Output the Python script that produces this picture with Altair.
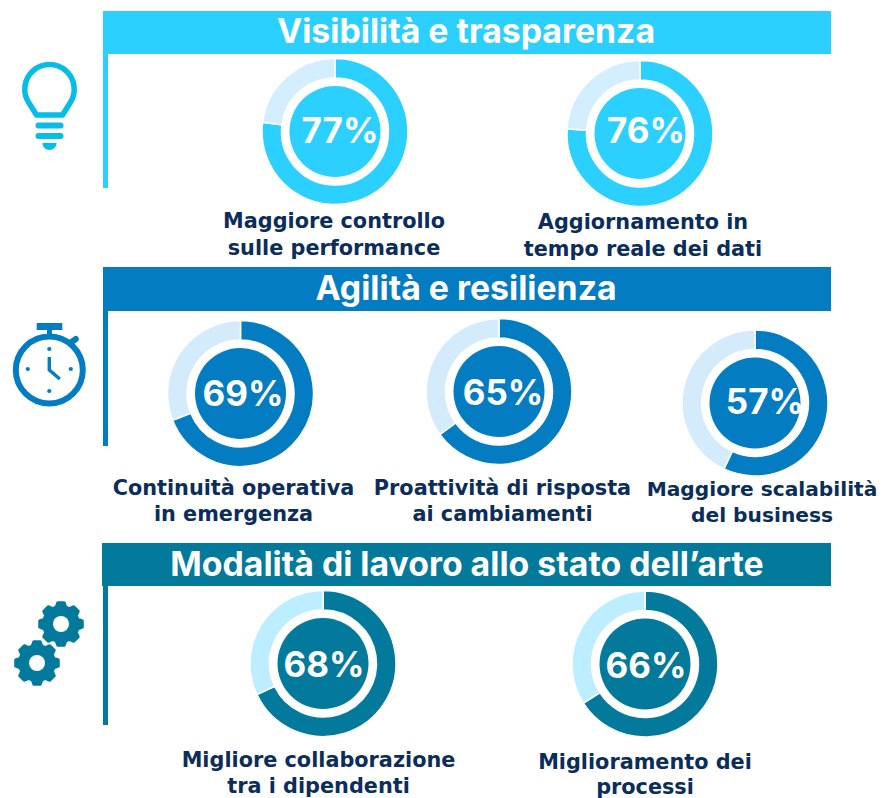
import math
import altair as alt
import pandas as pd

# ---- data ----
section_titles = ["Visibilità e trasparenza", "Agilità e resilienza", "Modalità di lavoro allo stato dell’arte"]
section_colors = ["#2BD0FF", "#047CC1", "#03799C"]
track_colors = ["#D2EEFF", "#D4EBFC", "#BCEEFF"]
section_of_item = [0, 0, 1, 1, 1, 2, 2]
values = [77, 76, 69, 65, 57, 68, 66]
labels = [
    ["Maggiore controllo", "sulle performance"],
    ["Aggiornamento in", "tempo reale dei dati"],
    ["Continuità operativa", "in emergenza"],
    ["Proattività di risposta", "ai cambiamenti"],
    ["Maggiore scalabilità", "del business"],
    ["Migliore collaborazione", "tra i dipendenti"],
    ["Miglioramento dei", "processi"],
]

# ---- layout (page pixels) ----
OX, OY = 8, 8
FONT = "DejaVu Sans"
HEAD_FONT = "Inter"
DARK = "#0B2D5B"
centers = [(335, 131.5), (640, 133.5), (240.5, 393.5), (499, 391.5), (755, 403), (323, 663.5), (645, 664)]
pct_pos = [(340, 132), (646, 132), (243, 395), (503, 394), (765, 403), (324, 666), (646, 667)]
label_pos = [(334, 222, 249), (643, 223, 250), (233.5, 489, 515), (502.5, 489, 515), (762, 490, 516), (318.5, 761, 787), (645, 763, 787.5)]
label_sizes = [20.8, 20.8, 20.8, 20.8, 20.2, 20.8, 20.8]
bars = [(103, 11, 54, 188), (103, 267, 311, 446), (102, 543, 586, 725)]
title_pos = [(466, 33), (466, 290), (467, 566)]
R_OUT, R_IN, R_CORE = 73, 53.5, 45.5
TITLE_SIZE, PCT_SIZE = 33.8, 35

vx = lambda v: alt.value(v - OX)
vy = lambda v: alt.value(v - OY)
one = pd.DataFrame({"a": [0]})
layers = []


def rect(x0, x1, y0, y1, color):
    return alt.Chart(one).mark_rect(color=color).encode(x=vx(x0), x2=vx(x1), y=vy(y0), y2=vy(y1))


def text(s, x, y, size, color, font=FONT):
    return alt.Chart(pd.DataFrame({"t": [s]})).mark_text(
        font=font, fontWeight=700, fontSize=size, color=color, align="center", baseline="middle"
    ).encode(text="t:N", x=vx(x), y=vy(y))


def shape(path, x, y, **kw):
    return alt.Chart(one).mark_point(shape=path, size=4, opacity=1, **kw).encode(x=vx(x), y=vy(y))


# section headers
for i, title in enumerate(section_titles):
    x0, y0, y1, y2 = bars[i]
    layers.append(rect(x0, 831, y0, y1, section_colors[i]))
    layers.append(rect(103, 108, y1, y2, section_colors[i]))
    layers.append(text(title, title_pos[i][0], title_pos[i][1], TITLE_SIZE, "white", HEAD_FONT))

# donuts
theta_scale = alt.Scale(domain=[0, 100], range=[0, 2 * math.pi])
for i, v in enumerate(values):
    sec = section_of_item[i]
    cx, cy = centers[i]
    for start, end, col in [(0, v, section_colors[sec]), (v, 100, track_colors[sec])]:
        d = pd.DataFrame({"start": [start], "end": [end]})
        layers.append(
            alt.Chart(d).mark_arc(innerRadius=R_IN, outerRadius=R_OUT, stroke="white", strokeWidth=1.5, color=col).encode(
                theta=alt.Theta("start:Q", scale=theta_scale),
                theta2="end:Q",
                x=vx(cx), y=vy(cy),
            )
        )
    layers.append(alt.Chart(one).mark_point(shape="circle", filled=True, size=(2 * R_CORE) ** 2, color=section_colors[sec], opacity=1).encode(x=vx(cx), y=vy(cy)))
    layers.append(text(f"{v}%", pct_pos[i][0], pct_pos[i][1], PCT_SIZE, "white", HEAD_FONT))
    lx, ly1, ly2 = label_pos[i]
    layers.append(text(labels[i][0], lx, ly1, label_sizes[i], DARK))
    layers.append(text(labels[i][1], lx, ly2, label_sizes[i], DARK))

# light bulb icon
BULB = "#05BDE6"
layers.append(shape("M-13 26 L-20.5 14 A24.7 24.7 0 1 1 20.5 14 L13 26 Z", 49.5, 89, filled=False, stroke=BULB, strokeWidth=5.5, strokeJoin="round"))
layers.append(shape("M-11 36.5 L11 36.5 M-11 47 L11 47", 49.5, 89, filled=False, stroke=BULB, strokeWidth=6, strokeCap="round"))
layers.append(shape("M-7 54 L7 54 A7 7 0 0 1 -7 54 Z", 49.5, 89, filled=True, fill=BULB, stroke=BULB, strokeWidth=0.1))

# stopwatch icon
WATCH = "#047CC1"
layers.append(shape("M-33.5 0 A33.5 33.5 0 1 1 33.5 0 A33.5 33.5 0 1 1 -33.5 0 Z", 49.3, 370, filled=False, stroke=WATCH, strokeWidth=6))
layers.append(rect(36.7, 62.3, 323, 330, WATCH))
layers.append(rect(47, 52, 330, 336, WATCH))
layers.append(shape("M21 -27 L26.5 -31", 49.3, 370, filled=False, stroke=WATCH, strokeWidth=6, strokeCap="round"))
layers.append(shape("M0 -13 L0 0 L10.5 9", 49.3, 370, filled=False, stroke=WATCH, strokeWidth=3.4, strokeJoin="miter"))
for dx, dy in [(0, -21), (0, 21), (-21.5, -1), (21.5, -1)]:
    layers.append(alt.Chart(one).mark_point(shape="circle", filled=True, size=18, color=WATCH, opacity=1).encode(x=vx(49.3 + dx), y=vy(370 + dy)))


# gear icons
def gear_path(r_body=17.5, r_tooth=21.5, teeth=8):
    pts = []
    step = 2 * math.pi / teeth
    for k in range(teeth):
        a = -math.pi / 2 + k * step
        for off, r in [(-0.28, r_body), (-0.15, r_tooth), (0.15, r_tooth), (0.28, r_body)]:
            pts.append((r * math.cos(a + off), r * math.sin(a + off)))
    return "M" + " L".join(f"{x:.2f} {y:.2f}" for x, y in pts) + " Z"


GEAR = "#03799C"
for gx, gy in [(61, 624), (37, 663)]:
    layers.append(shape(gear_path(), gx, gy, filled=True, fill=GEAR, stroke=GEAR, strokeWidth=3, strokeJoin="round"))
    layers.append(alt.Chart(one).mark_point(shape="circle", filled=True, size=16 ** 2, color="white", opacity=1).encode(x=vx(gx), y=vy(gy)))

chart = (
    alt.layer(*layers)
    .properties(width=871, height=790, padding=0, autosize=alt.AutoSizeParams(type="none"))
    .configure_view(stroke=None)
)
chart.save("out.html", embed_options={"renderer": "svg", "actions": False})
